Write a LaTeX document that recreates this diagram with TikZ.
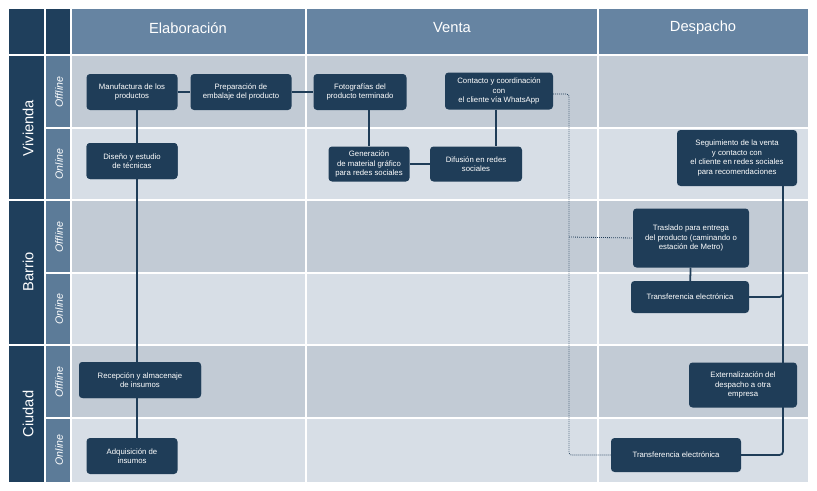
\documentclass[tikz,border=0pt]{standalone}
\usepackage{fontspec}
\setmainfont{Liberation Sans}
\begin{document}
\begin{tikzpicture}[x=0.85pt,y=-0.85pt,
  box/.style={fill=nodec,rounded corners=3pt,text=white,font=\fontsize{6.6}{8}\selectfont,align=center,inner sep=2pt},
  ln/.style={line width=1.5pt,draw=nodec,rounded corners=3pt},
  dl/.style={densely dotted,line width=0.7pt,draw=nodec,rounded corners=2pt},
  hd/.style={text=white,font=\fontsize{12.5}{14}\selectfont},
  rl/.style={text=white,rotate=90,font=\fontsize{12.5}{14}\selectfont},
  sl/.style={text=white,rotate=90,font=\itshape\fontsize{9}{10}\selectfont}]
\definecolor{nodec}{HTML}{1F3D58}
\definecolor{dark}{HTML}{1F3F5C}
\definecolor{mid}{HTML}{5C7B98}
\definecolor{head}{HTML}{6684A2}
\definecolor{offc}{HTML}{C2CBD5}
\definecolor{onc}{HTML}{D7DEE6}
\useasboundingbox (0,0) rectangle (817,490);
\fill[white] (0,0) rectangle (817,490);
% header
\fill[dark] (9,9) rectangle (71,55);
\foreach \a/\b in {71/306,306/598,598/808}{\fill[head] (\a,9) rectangle (\b,55);}
\node[hd] (h1) at (188,28) {Elaboración};
\node[hd] (h2) at (452,28) {Venta};
\node[hd] (h3) at (703,28) {Despacho};
% rows
\foreach \t/\b/\c in {55/128/offc,128/200/onc,200/273/offc,273/345/onc,345/418/offc,418/482/onc}{
  \foreach \a/\e in {71/306,306/598,598/808}{\fill[\c] (\a,\t) rectangle (\e,\b);}
  \fill[mid] (45,\t) rectangle (71,\b);}
\foreach \t/\b in {55/200,200/345,345/482}{\fill[dark] (9,\t) rectangle (45,\b);}
% white grid lines
\foreach \y in {55,128,200,273,345,418}{\draw[white,line width=1.2pt] (45,\y) -- (808,\y);}
\foreach \y in {55,200,345}{\draw[white,line width=1.2pt] (9,\y) -- (45,\y);}
\foreach \x in {45,71,306,598}{\draw[white,line width=1.2pt] (\x,9) -- (\x,482);}
% labels
\node[rl] (r1) at (28,128) {Vivienda};
\node[rl] (r2) at (28,272) {Barrio};
\node[rl] (r3) at (28,414) {Ciudad};
\node[sl] (s1) at (59,92) {Offline};
\node[sl] (s2) at (59,164) {Online};
\node[sl] (s3) at (59,237) {Offline};
\node[sl] (s4) at (59,309) {Online};
\node[sl] (s5) at (59,382) {Offline};
\node[sl] (s6) at (59,450) {Online};
% nodes
\node[box,minimum width=91*0.85pt,minimum height=36*0.85pt] (manu) at (132,92) {Manufactura de los\\productos};
\node[box,minimum width=101*0.85pt,minimum height=36*0.85pt] (prep) at (241,92) {Preparación de\\embalaje del producto};
\node[box,minimum width=93*0.85pt,minimum height=36*0.85pt] (foto) at (360,92) {Fotografías del\\producto terminado};
\node[box,minimum width=108*0.85pt,minimum height=37*0.85pt] (cont) at (499,91) {Contacto y coordinación\\con\\el cliente vía WhatsApp};
\node[box,minimum width=91*0.85pt,minimum height=36*0.85pt] (dis) at (132,161) {Diseño y estudio\\de técnicas};
\node[box,minimum width=81*0.85pt,minimum height=35*0.85pt] (gen) at (369,164) {Generación\\de material gráfico\\para redes sociales};
\node[box,minimum width=92*0.85pt,minimum height=35*0.85pt] (dif) at (476,164) {Difusión en redes\\sociales};
\node[box,minimum width=120*0.85pt,minimum height=56*0.85pt] (seg) at (737,158) {Seguimiento de la venta\\y contacto con\\el cliente en redes sociales\\para recomendaciones};
\node[box,minimum width=116*0.85pt,minimum height=59*0.85pt] (tras) at (691,238) {Traslado para entrega\\del producto (caminando o\\estación de Metro)};
\node[box,minimum width=118*0.85pt,minimum height=32*0.85pt] (tr1) at (690,297) {Transferencia electrónica};
\node[box,minimum width=122*0.85pt,minimum height=36*0.85pt] (rec) at (140,380) {Recepción y almacenaje\\de insumos};
\node[box,minimum width=108*0.85pt,minimum height=45*0.85pt] (ext) at (743,385) {Externalización del\\despacho a otra\\empresa};
\node[box,minimum width=91*0.85pt,minimum height=36*0.85pt] (adq) at (132,456) {Adquisición de\\insumos};
\node[box,minimum width=130*0.85pt,minimum height=34*0.85pt] (tr2) at (676,455) {Transferencia electrónica};
% connectors
\begin{scope}[on background layer/.style={}]
\end{scope}
\coordinate (d1) at (569,94);
\coordinate (d2) at (569,237);
\coordinate (d3) at (569,455);
\draw[dl] (cont.east |- d1) -| (d3) -- (tr2.west);
\draw[dl] (d2) -- (tras.west);
\draw[ln] (manu) -- (prep);
\draw[ln] (prep) -- (foto);
\draw[ln] (137,110) -- (137,438);
\draw[ln] (foto.south -| gen.north) -- (gen.north);
\draw[ln] (gen) -- (dif);
\draw[ln] (cont.south -| 496,0) -- (dif.north -| 496,0);
\draw[ln] (tras) -- (tr1);
\draw[ln] (tr1.east) -| (783,295);
\draw[ln] (seg.south -| 783,0) |- (tr2.east);
% redraw nodes over lines
\foreach \n in {manu,prep,foto,cont,dis,gen,dif,seg,tras,tr1,rec,ext,adq,tr2}{}
\node[box,minimum width=91*0.85pt,minimum height=36*0.85pt] at (132,161) {Diseño y estudio\\de técnicas};
\node[box,minimum width=122*0.85pt,minimum height=36*0.85pt] at (140,380) {Recepción y almacenaje\\de insumos};
\end{tikzpicture}
\end{document}
